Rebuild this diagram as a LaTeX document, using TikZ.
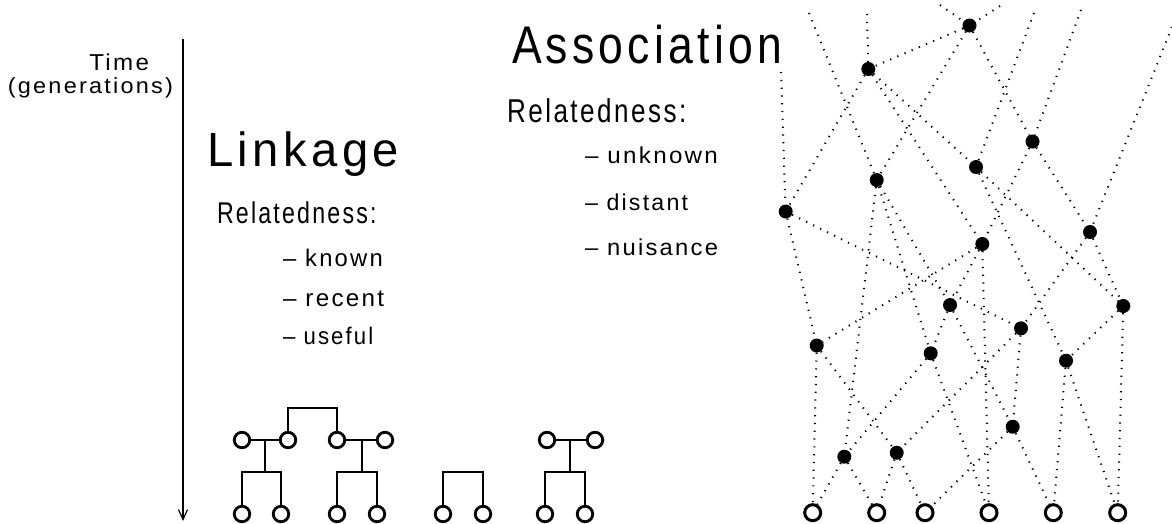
\documentclass[tikz,border=0pt]{standalone}
\usepackage{fontspec}
\setmainfont{Liberation Sans}[FakeStretch=0.84,LetterSpace=8]
\usetikzlibrary{arrows.meta}
\newcommand{\hs}[2]{\scalebox{#1}[1]{#2}}
\begin{document}
\begin{tikzpicture}[x=1pt,y=-1pt,
  dotline/.style={line width=2pt, dash pattern=on 1.2pt off 6.6pt},
  anc/.style={circle, fill=black, inner sep=0pt, minimum size=14pt},
  leaf/.style={circle, draw=black, line width=3pt, inner sep=0pt, minimum size=16pt},
  ped/.style={circle, draw=black, line width=2.8pt, inner sep=0pt, minimum size=15.5pt},
  pline/.style={line width=2.8pt},
  txt/.style={inner sep=0pt, outer sep=0pt}]
\useasboundingbox (0,0) rectangle (1172,523);

% ---- time axis and labels
\coordinate (t0) at (183,39);
\coordinate (t1) at (183,521);
\draw[line width=2.3pt, -{Straight Barb[length=10pt,width=9pt,line width=1.2pt]}] (t0) -- (t1);
\node[txt, anchor=base east, font=\fontsize{23}{25}\selectfont] (time) at (149,70) {\hs{1.25}{Time}};
\node[txt, anchor=base east, font=\fontsize{22}{24}\selectfont] (gen) at (173,93) {\hs{1.27}{(generations)}};

\node[txt, anchor=base west, font=\fontsize{48}{50}\selectfont] (link) at (207,166) {\hs{1.17}{Linkage}};
\node[txt, anchor=base west, font=\fontsize{30}{32}\selectfont] (rel1) at (217,223) {\hs{0.92}{Relatedness:}};
\node[txt, anchor=base west, font=\fontsize{24}{26}\selectfont] (l1) at (283,266) {\hs{1.18}{– known}};
\node[txt, anchor=base west, font=\fontsize{24}{26}\selectfont] (l2) at (283,306) {\hs{1.2}{– recent}};
\node[txt, anchor=base west, font=\fontsize{24}{26}\selectfont] (l3) at (283,344) {\hs{1.1}{– useful}};

\node[txt, anchor=base west, font=\fontsize{53}{55}\selectfont] (assoc) at (512,63) {Association};
\node[txt, anchor=base west, font=\fontsize{33}{35}\selectfont] (rel2) at (507,122) {\hs{0.94}{Relatedness:}};
\node[txt, anchor=base west, font=\fontsize{23}{25}\selectfont] (a1) at (585,163) {\hs{1.25}{– unknown}};
\node[txt, anchor=base west, font=\fontsize{23}{25}\selectfont] (a2) at (585,210) {\hs{1.2}{– distant}};
\node[txt, anchor=base west, font=\fontsize{23}{25}\selectfont] (a3) at (585,255) {\hs{1.23}{– nuisance}};

% ---- pedigrees
\node[ped] (p1) at (242,440) {};
\node[ped] (p2) at (288,440) {};
\node[ped] (p3) at (337,440) {};
\node[ped] (p4) at (385,440) {};
\node[ped] (p5) at (547,440) {};
\node[ped] (p6) at (595,440) {};
\node[ped] (q1) at (242,514) {};
\node[ped] (q2) at (281,514) {};
\node[ped] (q3) at (337,514) {};
\node[ped] (q4) at (377,514) {};
\node[ped] (q5) at (443,514) {};
\node[ped] (q6) at (483,514) {};
\node[ped] (q7) at (545,514) {};
\node[ped] (q8) at (585,514) {};
\coordinate (m1) at (265,440); \coordinate (s1) at (265,472);
\coordinate (m2) at (362,440); \coordinate (s2) at (362,472);
\coordinate (s3) at (463,472);
\coordinate (m3) at (570,440); \coordinate (s4) at (570,472);
\coordinate (b1) at (312,408);
\draw[pline] (p1) -- (p2);
\draw[pline] (p3) -- (p4);
\draw[pline] (p5) -- (p6);
\draw[pline] (m1) -- (s1);
\draw[pline] (m2) -- (s2);
\draw[pline] (m3) -- (s4);
\draw[pline] (q1) |- (s1) -| (q2);
\draw[pline] (q3) |- (s2) -| (q4);
\draw[pline] (q5) |- (s3) -| (q6);
\draw[pline] (q7) |- (s4) -| (q8);
\draw[pline] (p2) |- (b1) -| (p3);

% ---- ancestral graph
\node[anc] (A) at (969.5,25.5) {};
\node[anc] (B) at (868.3,69) {};
\node[anc] (C) at (1032.5,141.5) {};
\node[anc] (D) at (976,167) {};
\node[anc] (E) at (876.7,180) {};
\node[anc] (F) at (785.7,211.5) {};
\node[anc] (G) at (1090,232) {};
\node[anc] (H) at (982.3,244) {};
\node[anc] (I) at (950,305) {};
\node[anc] (J) at (1123.3,306) {};
\node[anc] (K) at (1021,328.3) {};
\node[anc] (L) at (816.7,345.5) {};
\node[anc] (M) at (930.7,353.3) {};
\node[anc] (N) at (1066,360.7) {};
\node[anc] (O) at (1012.7,426.7) {};
\node[anc] (P) at (896.7,452.7) {};
\node[anc] (Q) at (844.3,456.7) {};
\node[leaf] (c1) at (812.7,512.7) {};
\node[leaf] (c2) at (876.7,512.7) {};
\node[leaf] (c3) at (925,512.7) {};
\node[leaf] (c4) at (989,512.7) {};
\node[leaf] (c5) at (1053.3,512.7) {};
\node[leaf] (c6) at (1117.7,512.7) {};
\coordinate (tA1) at (940,5);
\coordinate (tA2) at (1000,6);
\coordinate (tB) at (867,14);
\coordinate (tC) at (1081,10);
\coordinate (tD) at (1034,13);
\coordinate (tE) at (809,13);
\coordinate (tF) at (781,72);
\coordinate (tG) at (1172,27);

\draw[dotline] (tA1) -- (A);
\draw[dotline] (tA2) -- (A);
\draw[dotline] (tB) -- (B);
\draw[dotline] (tC) -- (C);
\draw[dotline] (tD) -- (D);
\draw[dotline] (tE) -- (E);
\draw[dotline] (tF) -- (F);
\draw[dotline] (tG) -- (G);
\draw[dotline] (A) -- (B);
\draw[dotline] (A) -- (C);
\draw[dotline] (A) -- (E);
\draw[dotline] (B) -- (D);
\draw[dotline] (B) -- (F);
\draw[dotline] (B) -- (H);
\draw[dotline] (C) -- (G);
\draw[dotline] (C) -- (H);
\draw[dotline] (E) -- (I);
\draw[dotline] (H) -- (I);
\draw[dotline] (D) -- (J);
\draw[dotline] (G) -- (J);
\draw[dotline] (F) -- (K);
\draw[dotline] (G) -- (K);
\draw[dotline] (F) -- (L);
\draw[dotline] (H) -- (L);
\draw[dotline] (E) -- (M);
\draw[dotline] (I) -- (M);
\draw[dotline] (D) -- (N);
\draw[dotline] (J) -- (N);
\draw[dotline] (K) -- (O);
\draw[dotline] (I) -- (O);
\draw[dotline] (L) -- (P);
\draw[dotline] (K) -- (P);
\draw[dotline] (E) -- (Q);
\draw[dotline] (M) -- (Q);
\draw[dotline] (L) -- (c1);
\draw[dotline] (Q) -- (c1);
\draw[dotline] (Q) -- (c2);
\draw[dotline] (P) -- (c2);
\draw[dotline] (P) -- (c3);
\draw[dotline] (O) -- (c3);
\draw[dotline] (H) -- (c4);
\draw[dotline] (M) -- (c4);
\draw[dotline] (O) -- (c5);
\draw[dotline] (N) -- (c5);
\draw[dotline] (N) -- (c6);
\draw[dotline] (J) -- (c6);
\end{tikzpicture}
\end{document}
